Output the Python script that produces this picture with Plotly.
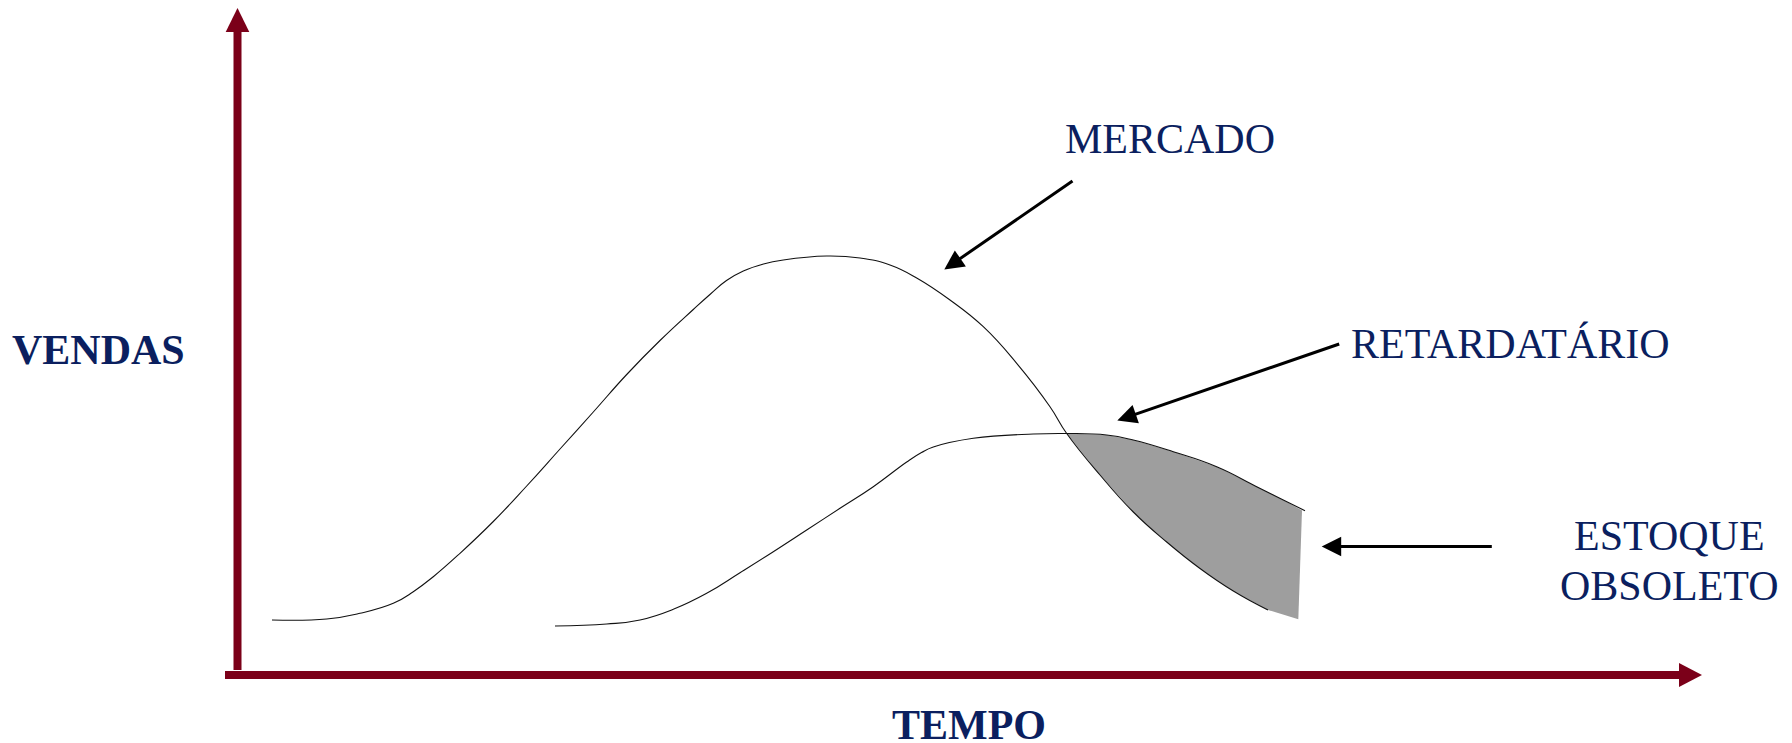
import numpy as np
import plotly.graph_objects as go

# ---- data (tempo, vendas) ----
mercado_t = [3.45, 8.92, 12.25, 15.58, 17.58, 19.58, 22.25, 25.58, 28.92, 32.25, 35.58, 38.92,
             42.25, 45.58, 47.3, 48.9, 50.58, 52.6, 54.58, 58.92, 62.25, 65.25, 67.92, 71.25, 74.58, 77.92,
             81.25, 82.92, 86.25, 89.58, 92.92, 96.25, 99.58, 103.05]
mercado_v = [11.0, 11.2, 12.34, 14.34, 16.66, 19.66, 24.34, 30.7, 37.8, 45.2, 52.6, 60.1,
             66.9, 73.1, 76.2, 78.9, 80.8, 82.2, 83.0, 83.8, 83.4, 82.0, 79.4, 75.0, 69.66, 62.34,
             53.66, 48.3, 40.0, 32.6, 26.6, 21.3, 16.8, 13.0]

retard_t = [31.75, 36.92, 40.25, 43.58, 46.92, 50.25, 53.58, 56.92, 60.25, 63.58, 66.92, 68.4, 69.58,
            73.58, 79.58, 82.92, 86.92, 89.58, 93.58, 97.92, 101.92, 104.58, 106.75]
retard_v = [9.8, 10.2, 11.0, 13.14, 16.34, 20.46, 24.66, 29.0, 33.34, 37.66, 42.6, 44.5, 45.6,
            47.34, 48.2, 48.3, 48.0, 47.0, 44.66, 41.66, 37.66, 35.0, 32.86]

estoque_corner_t = [106.45, 106.08]
estoque_corner_v = [32.9, 11.14]
crossing_t = 82.92

labels = ["MERCADO", "RETARDATÁRIO", "ESTOQUE", "OBSOLETO"]
axis_x_label = "TEMPO"
axis_y_label = "VENDAS"

AX = "#7B0019"
TXT = "#0B1F5F"

mt = np.array(mercado_t); mv = np.array(mercado_v)
rt = np.array(retard_t); rv = np.array(retard_v)
rmask = (rt >= crossing_t) & (rt <= estoque_corner_t[0])
mmask = mt >= crossing_t
fill_t = list(rt[rmask]) + estoque_corner_t + list(mt[mmask][::-1])
fill_v = list(rv[rmask]) + estoque_corner_v + list(mv[mmask][::-1])

fig = go.Figure()
fig.add_trace(go.Scatter(x=fill_t, y=fill_v, fill="toself", fillcolor="#9E9E9E",
                         mode="lines", line=dict(width=0, shape="linear"), hoverinfo="skip"))
fig.add_trace(go.Scatter(x=mercado_t, y=mercado_v, mode="lines",
                         line=dict(color="#111111", width=1.1, shape="spline", smoothing=1.3), hoverinfo="skip"))
fig.add_trace(go.Scatter(x=retard_t, y=retard_v, mode="lines",
                         line=dict(color="#111111", width=1.1, shape="spline", smoothing=1.3), hoverinfo="skip"))

shapes = [
    dict(type="line", x0=0, x1=0, y0=1.0, y1=128.8, line=dict(color=AX, width=8)),
    dict(type="path", path="M -1.18,128.6 L 1.18,128.6 L 0,133.4 Z", fillcolor=AX, line=dict(width=0)),
    dict(type="line", x0=-1.25, x1=144.3, y0=0, y1=0, line=dict(color=AX, width=8)),
    dict(type="path", path="M 144.15,2.4 L 144.15,-2.4 L 146.45,0 Z", fillcolor=AX, line=dict(width=0)),
]

font = dict(family="Liberation Serif, Times New Roman, serif", size=42, color=TXT)
annotations = [
    dict(x=93.25, y=107.2, text=labels[0], showarrow=False, font=font, xanchor="center", yanchor="middle"),
    dict(x=127.25, y=66.2, text=labels[1], showarrow=False, font=font, xanchor="center", yanchor="middle"),
    dict(x=143.15, y=27.8, text=labels[2], showarrow=False, font=font, xanchor="center", yanchor="middle"),
    dict(x=143.15, y=17.8, text=labels[3], showarrow=False, font=font, xanchor="center", yanchor="middle"),
    dict(x=-13.9, y=65.0, text="<b>%s</b>" % axis_y_label, showarrow=False, font=font, xanchor="center", yanchor="middle"),
    dict(x=73.1, y=-10.0, text="<b>%s</b>" % axis_x_label, showarrow=False, font=font, xanchor="center", yanchor="middle"),
    dict(x=70.68, y=81.1, ax=83.65, ay=99.0, xref="x", yref="y", axref="x", ayref="y", text="",
         showarrow=True, arrowhead=2, arrowsize=1.3, arrowwidth=3, arrowcolor="#000000"),
    dict(x=87.98, y=50.9, ax=110.32, ay=66.3, xref="x", yref="y", axref="x", ayref="y", text="",
         showarrow=True, arrowhead=2, arrowsize=1.3, arrowwidth=3, arrowcolor="#000000"),
    dict(x=108.42, y=25.7, ax=125.58, ay=25.7, xref="x", yref="y", axref="x", ayref="y", text="",
         showarrow=True, arrowhead=2, arrowsize=1.3, arrowwidth=3, arrowcolor="#000000"),
]

fig.update_layout(
    width=1792, height=743,
    margin=dict(l=0, r=0, t=0, b=0),
    paper_bgcolor="white", plot_bgcolor="white",
    showlegend=False,
    xaxis=dict(range=[-23.75, 155.45], visible=False, fixedrange=True),
    yaxis=dict(range=[-13.6, 135.0], visible=False, fixedrange=True),
    shapes=shapes,
    annotations=annotations,
)
fig.write_html("out.html", config={"displayModeBar": False},
               post_script="document.body.style.margin='0';document.body.style.overflow='hidden';")
